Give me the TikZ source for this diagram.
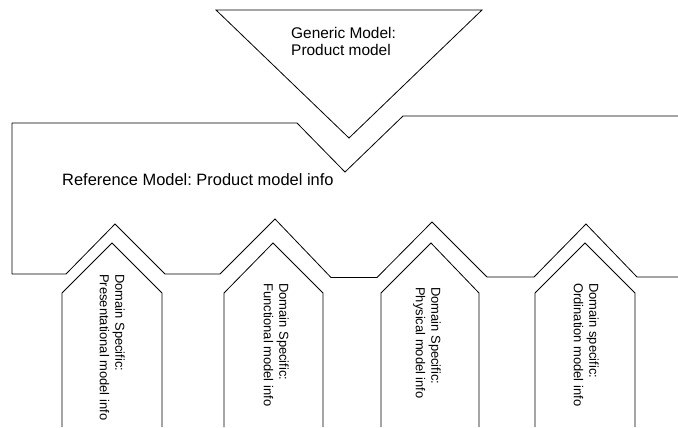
\documentclass[tikz,border=0pt]{standalone}
\usepackage{fontspec}
\setmainfont{Liberation Sans}
\frenchspacing
\begin{document}
\begin{tikzpicture}[x=1bp,y=-1bp,
  outline/.style={draw=black,line width=0.8bp,line join=miter},
  label/.style={inner sep=0pt,align=left,anchor=base west},
  bigtext/.style={label,font=\fontsize{16.5}{18}\selectfont},
  gentext/.style={label,font=\fontsize{15.5}{16.5}\selectfont},
  sidetext/.style={inner sep=0pt,align=left,anchor=north west,rotate=-90,
    font=\fontsize{13}{15.5}\selectfont}]
\useasboundingbox (0,0) rectangle (678,427);

% generic model: downward triangle
\draw[outline] (216,10) -- (482,10) -- (349,138) -- cycle;

% reference model band with its notch and four peaks
\draw[outline] (678,116) -- (403,116) -- (345,172) -- (297,123) -- (12,123)
  -- (12,274) -- (66,274) -- (115,224) -- (165,274) -- (220,274)
  -- (275,219) -- (331,277.5) -- (377,277.5) -- (432,222) -- (487,277)
  -- (534,277) -- (586,224) -- (637,277) -- (678,277);

% domain specific arrows
\draw[outline] (62,427) -- (62,293) -- (112,243) -- (162,293) -- (162,427);
\draw[outline] (224,427) -- (224,293) -- (273,243) -- (323,293) -- (323,427);
\draw[outline] (381,427) -- (381,293) -- (431,243) -- (479,293) -- (479,427);
\draw[outline] (535,427) -- (535,293) -- (585,243) -- (635,293) -- (635,427);

% labels (base anchor of a two-line node sits on its last line)
\node[gentext] (gen) at (291,55) {Generic Model:\\Product model};
\node[bigtext] (ref) at (62,185) {Reference Model: Product model info};

\node[sidetext] (pres) at (125,274) {Domain Specific:\\Presentational model info};
\node[sidetext] (func) at (289,283) {Domain Specific:\\Functional model info};
\node[sidetext] (phys) at (441,287) {Domain Specific:\\Physical model info};
\node[sidetext] (ordi) at (599,283) {Domain specific:\\Ordination model info};
\end{tikzpicture}
\end{document}
